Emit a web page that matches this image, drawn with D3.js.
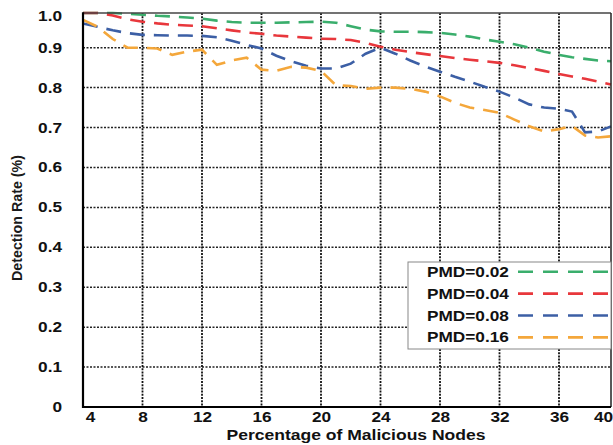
<!DOCTYPE html>
<html><head><meta charset="utf-8">
<script src="https://cdn.jsdelivr.net/npm/d3@7/dist/d3.min.js"></script>
<style>
body{margin:0;background:#fff}
svg{display:block}
text{font-family:"Liberation Sans",Arial,sans-serif}
</style></head>
<body><svg id="c" width="613" height="445"></svg>
<script>
const xValues = [4,5,6,7,8,9,10,11,12,13,14,15,16,17,18,19,20,21,22,23,24,25,26,27,28,29,30,31,32,33,34,35,36,37,38,39,40];
const pmd002 = [1.0,1.0,1.0,0.998,0.995,0.992,0.99,0.987,0.984,0.978,0.974,0.972,0.972,0.972,0.973,0.974,0.975,0.972,0.962,0.952,0.947,0.946,0.946,0.945,0.943,0.938,0.932,0.924,0.917,0.91,0.9,0.89,0.882,0.876,0.872,0.868,0.866];
const pmd004 = [1.0,1.0,0.993,0.982,0.975,0.97,0.966,0.964,0.962,0.956,0.95,0.944,0.94,0.935,0.932,0.929,0.926,0.925,0.922,0.914,0.903,0.895,0.889,0.884,0.879,0.874,0.87,0.866,0.862,0.856,0.849,0.842,0.834,0.828,0.822,0.815,0.808];
const pmd008 = [0.97,0.96,0.95,0.942,0.937,0.936,0.935,0.935,0.934,0.93,0.92,0.908,0.898,0.88,0.866,0.855,0.848,0.848,0.86,0.885,0.9,0.885,0.868,0.853,0.84,0.827,0.815,0.802,0.79,0.775,0.758,0.75,0.747,0.74,0.688,0.69,0.703];
const pmd016 = [0.98,0.96,0.925,0.9,0.9,0.898,0.882,0.89,0.895,0.857,0.868,0.875,0.845,0.842,0.852,0.85,0.842,0.806,0.804,0.797,0.8,0.8,0.797,0.79,0.778,0.762,0.75,0.744,0.737,0.72,0.703,0.69,0.696,0.704,0.68,0.675,0.678];
const seriesNames = ["PMD=0.02","PMD=0.04","PMD=0.08","PMD=0.16"];
const xTicks = [4,8,12,16,20,24,28,32,36,40];
const yTicks = [0,0.1,0.2,0.3,0.4,0.5,0.6,0.7,0.8,0.9,1.0];
const yTickLabels = ["0","0.1","0.2","0.3","0.4","0.5","0.6","0.7","0.8","0.9","1.0"];
const xTitle = "Percentage of Malicious Nodes";
const yTitle = "Detection Rate (%)";

const series = [pmd002, pmd004, pmd008, pmd016];
const colors = ["#3aae6c","#e8373c","#3c5fa5","#f4a73b"];

const L = 83, R = 611, T = 13, B = 407;
const svg = d3.select("#c");
const x = d3.scaleLinear().domain([4, 36, 40]).range([L, 559, R]);
const y = d3.scaleLinear().domain([0, 0.9, 1.0]).range([B, 47.7, T]);

// grid
svg.append("g").selectAll("line").data(yTicks.filter(v => v > 0 && v < 1)).join("line")
  .attr("x1", L).attr("x2", R).attr("y1", d => y(d)).attr("y2", d => y(d))
  .attr("stroke", "#222").attr("stroke-width", 1.5).attr("stroke-dasharray", "2,1.5");
svg.append("g").selectAll("line").data(xTicks.filter(v => v > 4 && v < 40)).join("line")
  .attr("x1", d => x(d)).attr("x2", d => x(d)).attr("y1", T).attr("y2", B)
  .attr("stroke", "#111").attr("stroke-width", 1.8).attr("stroke-dasharray", "2,1.2");

// lines
const line = d3.line().x((d, i) => x(xValues[i])).y(d => y(d));
svg.append("g").selectAll("path").data(series).join("path")
  .attr("d", d => line(d)).attr("fill", "none")
  .attr("stroke", (d, i) => colors[i]).attr("stroke-width", 2.6)
  .attr("stroke-dasharray", "15,9");

// frame
svg.append("line").attr("x1", L).attr("x2", R).attr("y1", T).attr("y2", T).attr("stroke", "#444").attr("stroke-width", 1.5);
svg.append("line").attr("x1", R).attr("x2", R).attr("y1", T).attr("y2", B).attr("stroke", "#222").attr("stroke-width", 1.5);
svg.append("line").attr("x1", L).attr("x2", L).attr("y1", T - 0.75).attr("y2", B + 1).attr("stroke", "#000").attr("stroke-width", 2.2);
svg.append("line").attr("x1", L - 1).attr("x2", R).attr("y1", B).attr("y2", B).attr("stroke", "#000").attr("stroke-width", 2.2);

// axes (labels)
const xa = svg.append("g").attr("transform", `translate(0,${B})`)
  .call(d3.axisBottom(x).tickValues(xTicks).tickSize(0).tickPadding(5).tickFormat(d3.format("d")));
xa.select(".domain").remove();
xa.selectAll("text").attr("class", "s").attr("font-size", 14).attr("font-weight", "bold")
  .attr("font-family", '"Liberation Sans",Arial,sans-serif').attr("fill", "#111")
  .attr("dx", d => d === 4 ? 7 : (d === 40 ? -8 : 0));

const ya = svg.append("g").attr("transform", `translate(${L},0)`)
  .call(d3.axisLeft(y).tickValues(yTicks).tickSize(0).tickPadding(21).tickFormat((d, i) => yTickLabels[i]));
ya.select(".domain").remove();
ya.selectAll("text").attr("class", "s").attr("font-size", 14).attr("font-weight", "bold")
  .attr("font-family", '"Liberation Sans",Arial,sans-serif').attr("fill", "#111")
  .attr("y", d => d === 1 ? 3 : 0);

// titles
svg.append("text").attr("x", 356).attr("y", 440).attr("text-anchor", "middle")
  .attr("font-size", 14).attr("font-weight", "bold").attr("fill", "#111")
  .attr("textLength", 259).attr("lengthAdjust", "spacingAndGlyphs").text(xTitle);
svg.append("text").attr("transform", "translate(22,218) rotate(-90)").attr("text-anchor", "middle")
  .attr("font-size", 14).attr("font-weight", "bold").attr("fill", "#1a1a1a")
  .attr("textLength", 126).attr("lengthAdjust", "spacingAndGlyphs").text(yTitle);

// legend
const lg = svg.append("g");
lg.append("rect").attr("x", 408).attr("y", 262).attr("width", R - 408).attr("height", 87)
  .attr("fill", "#fff").attr("stroke", "#888").attr("stroke-width", 1);
seriesNames.forEach((name, i) => {
  const cy = 271.7 + i * 21.9;
  lg.append("text").attr("class", "s").attr("x", 427).attr("y", cy + 5)
    .attr("font-size", 14).attr("font-weight", "bold").attr("fill", "#111").text(name);
  lg.append("line").attr("x1", 518).attr("x2", R - 1).attr("y1", cy).attr("y2", cy)
    .attr("stroke", colors[i]).attr("stroke-width", 2.6).attr("stroke-dasharray", "15,10");
});

// horizontal stretch of text to match reference glyph widths
svg.selectAll("text.s").each(function () {
  const len = this.getComputedTextLength();
  d3.select(this).attr("textLength", len * 1.23).attr("lengthAdjust", "spacingAndGlyphs");
});
</script>
</body></html>
